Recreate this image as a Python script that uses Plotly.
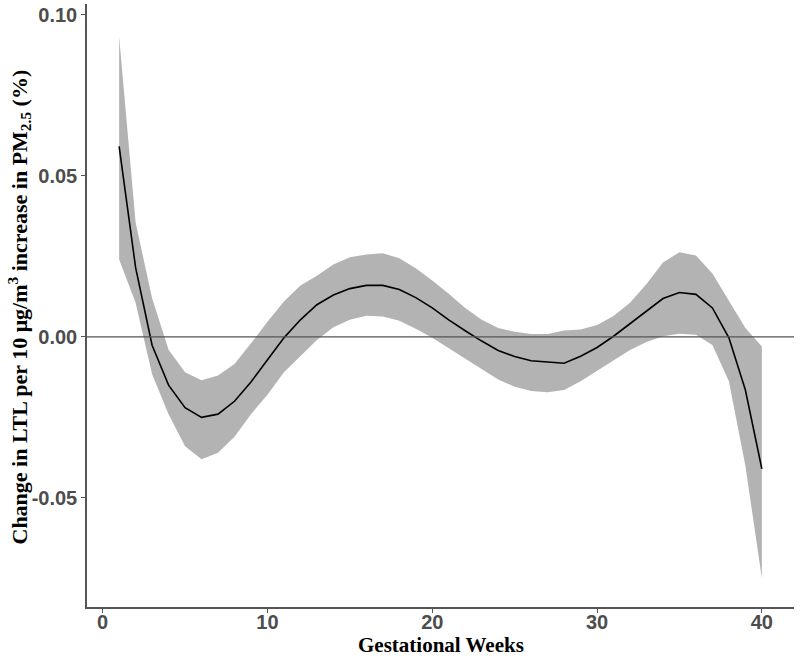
import plotly.graph_objects as go

weeks = list(range(1, 41))
estimate = [0.0592, 0.0215, -0.0026, -0.015, -0.022, -0.025, -0.024, -0.020, -0.014, -0.007,
            -0.0003, 0.0053, 0.010, 0.013, 0.015, 0.016, 0.016, 0.0147, 0.0122, 0.009,
            0.0053, 0.0019, -0.0013, -0.0042, -0.0061, -0.0074, -0.0078, -0.0082, -0.006, -0.0033,
            0.0002, 0.0041, 0.0082, 0.0119, 0.0138, 0.0132, 0.009, -0.0003, -0.0165, -0.041]
upper = [0.0932, 0.0355, 0.012, -0.004, -0.011, -0.0135, -0.012, -0.0084, -0.002, 0.0047,
         0.011, 0.016, 0.019, 0.0225, 0.0247, 0.0256, 0.026, 0.0244, 0.0213, 0.0175,
         0.0134, 0.009, 0.0053, 0.0028, 0.0016, 0.0009, 0.0009, 0.002, 0.0023, 0.0037,
         0.0065, 0.0106, 0.0164, 0.0231, 0.0263, 0.0253, 0.0197, 0.0112, 0.0028, -0.003]
lower = [0.024, 0.0106, -0.0116, -0.024, -0.034, -0.038, -0.036, -0.031, -0.024, -0.018,
         -0.011, -0.006, -0.001, 0.003, 0.0053, 0.0066, 0.0063, 0.005, 0.0025, -0.0003,
         -0.0035, -0.0068, -0.010, -0.0132, -0.0155, -0.0168, -0.0172, -0.0165, -0.0138, -0.0105,
         -0.0073, -0.0041, -0.0016, 0.0002, 0.001, 0.0007, -0.0025, -0.0138, -0.040, -0.075]

x_ticks = [0, 10, 20, 30, 40]
y_ticks = [-0.05, 0.00, 0.05, 0.10]
y_tick_labels = ["-0.05", "0.00", "0.05", "0.10"]

fig = go.Figure()
fig.add_trace(go.Scatter(x=weeks, y=lower, mode="lines", line=dict(width=0),
                         showlegend=False, hoverinfo="skip"))
fig.add_trace(go.Scatter(x=weeks, y=upper, mode="lines", line=dict(width=0),
                         fill="tonexty", fillcolor="#B3B3B3", showlegend=False, hoverinfo="skip"))
fig.add_trace(go.Scatter(x=weeks, y=estimate, mode="lines", line=dict(color="black", width=1.6),
                         showlegend=False))

fig.add_shape(type="line", xref="paper", x0=0, x1=1, y0=0, y1=0,
              line=dict(color="#555555", width=1.2), layer="above")

axis_common = dict(showgrid=False, zeroline=False, showline=True, linecolor="#555555", linewidth=1.5,
                   ticks="outside", ticklen=4, tickcolor="#555555", tickwidth=1.2, automargin=False,
                   tickfont=dict(family="Liberation Sans, Arial", size=20, color="#4D4D4D",
                                 weight="bold"))

fig.update_xaxes(range=[-0.95, 41.95], tickvals=x_ticks, ticktext=[str(v) for v in x_ticks],
                 ticklabelstandoff=-8, **axis_common)
fig.update_yaxes(range=[-0.0839, 0.1034], tickvals=y_ticks, ticktext=y_tick_labels,
                 **axis_common)

fig.update_layout(
    width=800, height=661,
    margin=dict(l=87, r=6, t=4, b=54),
    plot_bgcolor="white", paper_bgcolor="white",
    annotations=[
        dict(text="<b>Gestational Weeks</b>", xref="paper", yref="paper",
             x=0.5, y=-38/603, xanchor="center", yanchor="middle", showarrow=False,
             font=dict(family="Liberation Serif, Times New Roman", size=21, color="black")),
        dict(text="<b>Change in LTL per 10 μg/m<sup>3</sup> increase in PM<sub>2.5</sub> (%)</b>",
             xref="paper", yref="paper", x=(19 - 87) / 707, y=0.5 + (303 - 305) / 603,
             xanchor="center", yanchor="middle", textangle=-90, showarrow=False,
             font=dict(family="Liberation Serif, Times New Roman", size=22, color="black")),
    ],
)

fig.write_html("out.html", config={"displayModeBar": False},
               post_script="document.body.style.margin='0';")
